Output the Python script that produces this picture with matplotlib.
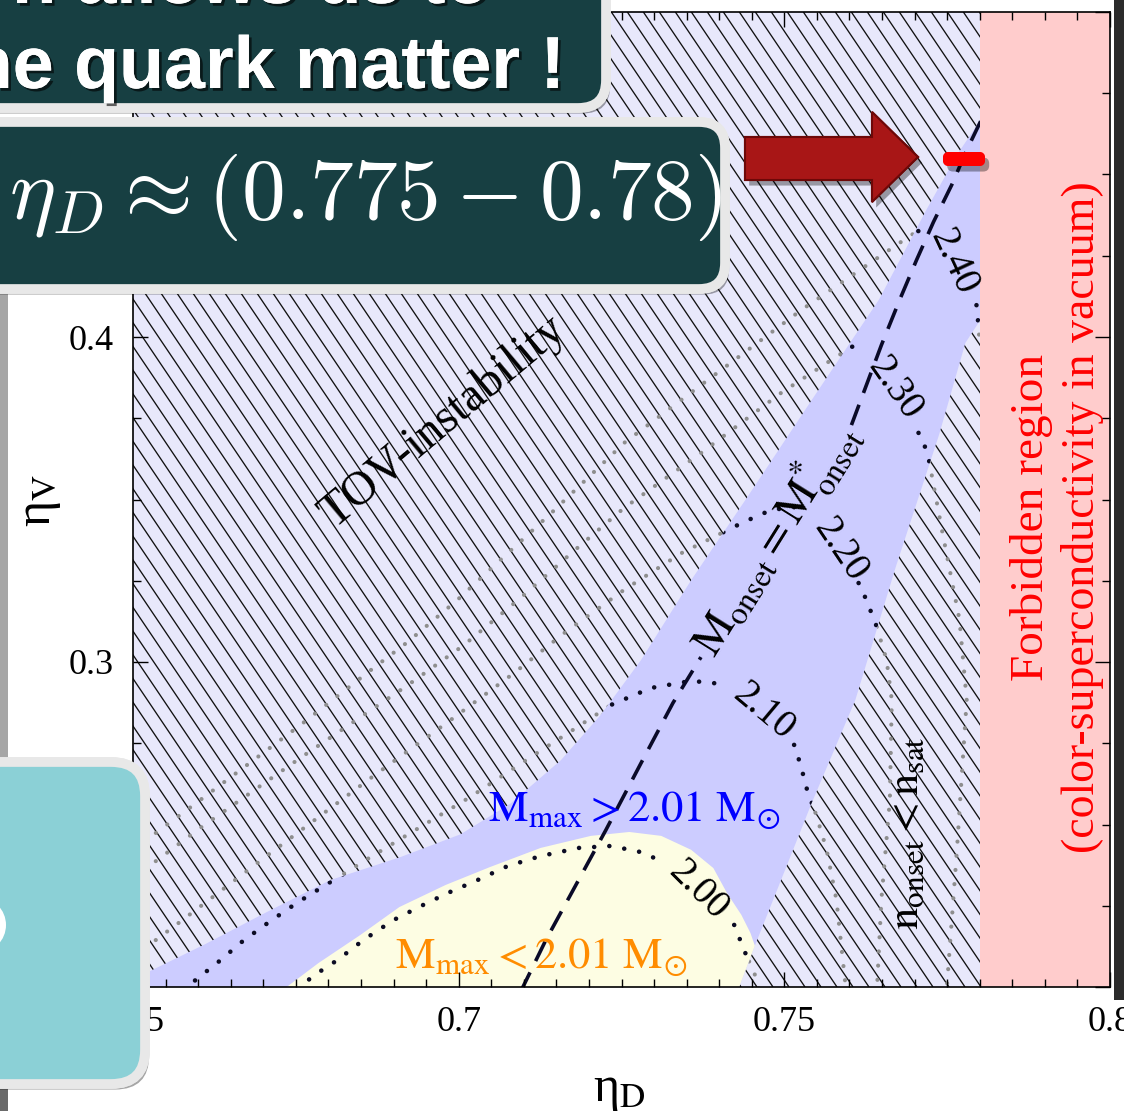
import numpy as np
import matplotlib
matplotlib.use('Agg')
import matplotlib.pyplot as plt
from matplotlib.patches import Polygon, FancyBboxPatch, Rectangle, Circle
from matplotlib.collections import LineCollection
from matplotlib.ticker import MultipleLocator, FuncFormatter
import matplotlib.patheffects as pe

plt.rcParams['font.family'] = ['Liberation Serif', 'DejaVu Serif']
plt.rcParams['mathtext.fontset'] = 'stix'

# --- region boundaries (eta_D, eta_V) ---
# allowed region (M_max > 2.01 Msun): upper-left edge, bottom to top
allowed_left_eD = [0.6511, 0.6522, 0.6611, 0.6700, 0.6803, 0.6911, 0.7003, 0.7080,
                   0.7157, 0.7218, 0.7280, 0.7357, 0.7440, 0.7542, 0.7645, 0.7718,
                   0.7765, 0.7803]
allowed_left_eV = [0.1991, 0.2045, 0.2132, 0.2225, 0.2329, 0.2400, 0.2470, 0.2565,
                   0.2698, 0.2837, 0.3006, 0.3252, 0.3498, 0.3806, 0.4114, 0.4391,
                   0.4560, 0.4674]
# allowed region: right edge, top to bottom
allowed_right_eD = [0.7811, 0.7811, 0.7778, 0.7738, 0.7671, 0.7609, 0.7542, 0.7454, 0.7429]
allowed_right_eV = [0.4674, 0.4083, 0.3982, 0.3702, 0.3292, 0.2883, 0.2566, 0.2123, 0.1991]

# M_max < 2.01 Msun region
low_mass_eD = [0.6726, 0.6785, 0.6849, 0.6909, 0.6980, 0.7048, 0.7126, 0.7203, 0.7262,
               0.7311, 0.7357, 0.7391, 0.7412, 0.7434, 0.7448, 0.7457, 0.7434]
low_mass_eV = [0.1985, 0.2074, 0.2160, 0.2246, 0.2314, 0.2369, 0.2428, 0.2465, 0.2477,
               0.2465, 0.2422, 0.2366, 0.2289, 0.2222, 0.2166, 0.2114, 0.1985]

forbidden_eD = 0.78

# M_max contours (dotted), split at the inline label
c200_a_eD = [0.6757, 0.6772, 0.6814, 0.6854, 0.6900, 0.6942, 0.6983, 0.7029, 0.7075,
             0.7126, 0.7185, 0.7234, 0.7280, 0.7314]
c200_a_eV = [0.1985, 0.2028, 0.2083, 0.2145, 0.2206, 0.2249, 0.2289, 0.2329, 0.2372,
             0.2403, 0.2428, 0.2434, 0.2415, 0.2385]
c200_b_eD = [0.7423, 0.7440, 0.7454, 0.7462]
c200_b_eV = [0.2191, 0.2105, 0.2043, 0.1985]

c210_a_eD = [0.6580, 0.6592, 0.6631, 0.6669, 0.6709, 0.6751, 0.6803, 0.6865, 0.6926,
             0.7018, 0.7111, 0.7180, 0.7234, 0.7295, 0.7357, 0.7406]
c210_a_eV = [0.1985, 0.2015, 0.2077, 0.2142, 0.2200, 0.2258, 0.2323, 0.2400, 0.2474,
             0.2585, 0.2708, 0.2797, 0.2868, 0.2920, 0.2942, 0.2932]
c210_b_eD = [0.7515, 0.7525, 0.7535, 0.7549, 0.7565, 0.7580, 0.7595]
c210_b_eV = [0.2745, 0.2683, 0.2606, 0.2529, 0.2422, 0.2268, 0.1985]

c220_a_eD = [0.6500, 0.6572, 0.6711, 0.6865, 0.6988, 0.7085, 0.7162, 0.7254, 0.7342,
             0.7438, 0.7480, 0.7518]
c220_a_eV = [0.2092, 0.2200, 0.2412, 0.2643, 0.2822, 0.2966, 0.3089, 0.3222, 0.3335,
             0.3431, 0.3468, 0.3477]
c220_b_eD = [0.7614, 0.7626, 0.7642, 0.7657, 0.7665, 0.7662, 0.7649, 0.7642]
c220_b_eV = [0.3243, 0.3191, 0.3108, 0.3006, 0.2883, 0.2575, 0.2268, 0.1985]

c230_a_eD = [0.6500, 0.6603, 0.6757, 0.6922, 0.7008, 0.7095, 0.7177, 0.7254, 0.7372,
             0.7495, 0.7572, 0.7608]
c230_a_eV = [0.2335, 0.2489, 0.2705, 0.2929, 0.3052, 0.3197, 0.3342, 0.3474, 0.3643,
             0.3828, 0.3929, 0.3975]
c230_b_eD = [0.7706, 0.7715, 0.7722, 0.7742, 0.7769, 0.7780, 0.7765, 0.7749]
c230_b_eV = [0.3705, 0.3668, 0.3622, 0.3406, 0.3129, 0.2883, 0.2422, 0.1985]

c240_a_eD = [0.6500, 0.6603, 0.6757, 0.6865, 0.6922, 0.6998, 0.7069, 0.7142, 0.7254,
             0.7372, 0.7526, 0.7634, 0.7695, 0.7723]
c240_a_eV = [0.2422, 0.2575, 0.2806, 0.2975, 0.3062, 0.3191, 0.3323, 0.3458, 0.3674,
             0.3852, 0.4083, 0.4231, 0.4314, 0.4345]
c240_b_eD = [0.7795, 0.7798, 0.7800]
c240_b_eV = [0.4098, 0.4037, 0.3975]

contour_labels = ['2.00', '2.10', '2.20', '2.30', '2.40']
label_eD = [0.7368, 0.7468, 0.7585, 0.7669, 0.7760]
label_eV = [0.2298, 0.2846, 0.3345, 0.3843, 0.4231]
label_rot = [-45, -40, -56, -55, -65]

# M_onset = M*_onset (dashed), split at its label
onset_a_eD = [0.7095, 0.7134, 0.7180, 0.7226, 0.7280, 0.7329, 0.7372]
onset_a_eV = [0.1985, 0.2145, 0.2314, 0.2483, 0.2689, 0.2874, 0.3015]
onset_b_eD = [0.7603, 0.7626, 0.7649, 0.7677, 0.7703, 0.7729, 0.7757, 0.7780, 0.7806]
onset_b_eV = [0.3729, 0.3852, 0.3975, 0.4114, 0.4237, 0.4354, 0.4468, 0.4575, 0.4683]

contours = [(c200_a_eD, c200_a_eV, c200_b_eD, c200_b_eV),
            (c210_a_eD, c210_a_eV, c210_b_eD, c210_b_eV),
            (c220_a_eD, c220_a_eV, c220_b_eD, c220_b_eV),
            (c230_a_eD, c230_a_eV, c230_b_eD, c230_b_eV),
            (c240_a_eD, c240_a_eV, c240_b_eD, c240_b_eV)]

# ------------------------------------------------------------------
fig = plt.figure(figsize=(11.24, 11.11), dpi=100)
ax = fig.add_axes([133 / 1124, 1 - 987 / 1111, 977 / 1124, 975 / 1111])
ax.set_xlim(0.65, 0.80)
ax.set_ylim(0.2, 0.5)
ax.set_facecolor('#e8e8fb')

# hatch lines (steep '\' pattern)
W, H = 977.0, 975.0
run = H / np.tan(np.radians(56))
segs = [[(x0 / W, 1.0), ((x0 + run) / W, 0.0)] for x0 in np.arange(-run, W, 16.0)]
ax.add_collection(LineCollection(segs, colors='#111111', linewidths=0.95,
                                 transform=ax.transAxes, zorder=1))

# gray contour continuation in the excluded region
for a_x, a_y, b_x, b_y in contours:
    ax.plot(a_x + b_x, a_y + b_y, color='#8e8e8e', zorder=2, lw=3.0,
            ls=(0, (0.01, 3.4)), dash_capstyle='round')

allowed = Polygon(list(zip(allowed_left_eD + allowed_right_eD,
                           allowed_left_eV + allowed_right_eV)),
                  closed=True, fc='#ccccff', ec='none', zorder=3)
ax.add_patch(allowed)
low = Polygon(list(zip(low_mass_eD, low_mass_eV)), closed=True,
              fc='#fdfde3', ec='none', zorder=4)
ax.add_patch(low)
low.set_clip_path(allowed)

for a_x, a_y, b_x, b_y in contours:
    for xs, ys in [(a_x, a_y), (b_x, b_y)]:
        ln, = ax.plot(xs, ys, color='#0c0c24', zorder=5, lw=3.3,
                      ls=(0, (0.01, 3.3)), dash_capstyle='round')
        ln.set_clip_path(allowed)

for lab, x, y, r in zip(contour_labels, label_eD, label_eV, label_rot):
    ax.text(x, y, lab, fontsize=28, rotation=r, ha='center', va='center',
            rotation_mode='anchor', zorder=8)

dash = dict(color='#0a0a28', lw=2.6, ls=(0, (6, 3.5)), zorder=6)
ax.plot(onset_a_eD, onset_a_eV, **dash)
ax.plot(onset_b_eD, onset_b_eV, **dash)

ax.axvspan(forbidden_eD, 0.80, color='#ffcccc', lw=0, zorder=7)

# annotations
ax.text(0.6975, 0.3738, 'TOV-instability', fontsize=35, rotation=40,
        ha='center', va='center', rotation_mode='anchor', zorder=8)
ax.text(0.7486, 0.3378, r'$\mathrm{M_{onset}} = \mathrm{M^{*}_{onset}}$', fontsize=33,
        rotation=58, ha='center', va='center', rotation_mode='anchor', zorder=8)
ax.text(0.7269, 0.2545, r'$\mathrm{M_{max}} > 2.01\ \mathrm{M_{\odot}}$', fontsize=32,
        color='#0000ff', ha='center', va='center', zorder=8)
ax.text(0.7126, 0.2092, r'$\mathrm{M_{max}} < 2.01\ \mathrm{M_{\odot}}$', fontsize=32,
        color='#ff8c00', ha='center', va='center', zorder=8)
ax.text(0.7688, 0.2474, r'$\mathrm{n_{onset}} < \mathrm{n_{sat}}$', fontsize=32,
        rotation=90, ha='center', va='center', zorder=8)
ax.text(0.7880, 0.3446, 'Forbidden region', fontsize=34, color='#ff0000',
        rotation=90, ha='center', va='center', zorder=8)
ax.text(0.7958, 0.3446, '(color-superconductivity in vacuum)', fontsize=33,
        color='#ff0000', rotation=90, ha='center', va='center', zorder=8)

# axes styling
fmt = FuncFormatter(lambda v, p: '%g' % round(v, 3))
ax.xaxis.set_major_locator(MultipleLocator(0.05))
ax.xaxis.set_minor_locator(MultipleLocator(0.005))
ax.yaxis.set_major_locator(MultipleLocator(0.1))
ax.yaxis.set_minor_locator(MultipleLocator(0.025))
ax.xaxis.set_major_formatter(fmt)
ax.yaxis.set_major_formatter(fmt)
ax.tick_params(which='both', direction='in', top=True, right=True, width=1.0,
               labelsize=26)
ax.tick_params(which='major', length=11, pad=14)
ax.tick_params(which='minor', length=6)
for sp in ax.spines.values():
    sp.set_linewidth(1.2)
    sp.set_zorder(20)
ax.xaxis.set_zorder(20)
ax.yaxis.set_zorder(20)

ax.set_xlabel(r'η$_\mathrm{D}$', fontsize=36)
ax.xaxis.set_label_coords(0.498, -0.106)
ax.xaxis.label.set_verticalalignment('center')
ax.set_ylabel(r'η$_\mathrm{V}$', fontsize=36)
ax.yaxis.set_label_coords(-0.095, 0.4995)
ax.yaxis.label.set_verticalalignment('center')

# ------------------------------------------------------------------
# slide overlay (pixel coordinates)
ov = fig.add_axes([0, 0, 1, 1], zorder=10)
ov.set_xlim(0, 1124)
ov.set_ylim(1111, 0)
ov.set_facecolor('none')
ov.axis('off')

shadow = [pe.withSimplePatchShadow(offset=(3, -4), shadow_rgbFace='k', alpha=0.35),
          pe.Normal()]

ov.add_patch(Rectangle((1114, 0), 10, 1000, fc='#2b2b2b', ec='none'))
ov.add_patch(Rectangle((0, 290), 8, 470, fc='#a6a6a6', ec='none'))
ov.add_patch(Rectangle((0, 1085), 8, 26, fc='#6a6a6a', ec='none'))

teal_dark = '#173f42'
box1 = FancyBboxPatch((-60, -60), 666, 168, boxstyle='round,pad=0,rounding_size=28',
                      fc=teal_dark, ec='#e8e8e8', lw=7, path_effects=shadow)
ov.add_patch(box1)
txt_shadow = [pe.withSimplePatchShadow(offset=(2, -2), shadow_rgbFace='k', alpha=0.6),
              pe.Normal()]
ov.text(490, 3, 'n allows us to', color='white', fontsize=52, fontweight='bold',
        family='Liberation Sans', ha='right', va='baseline', path_effects=txt_shadow)
ov.text(565, 88, 'he quark matter !', color='white', fontsize=53, fontweight='bold',
        family='Liberation Sans', ha='right', va='baseline', path_effects=txt_shadow)

box2 = FancyBboxPatch((-60, 122), 785, 167, boxstyle='round,pad=0,rounding_size=26',
                      fc=teal_dark, ec='#e8e8e8', lw=7, path_effects=shadow)
ov.add_patch(box2)
ov.text(366, 197, r'$\eta_D \approx (0.775 - 0.78)$', math_fontfamily='cm',
        fontsize=63, color='white', ha='center', va='center')

arrow = Polygon([(745, 137), (872, 137), (872, 112), (918, 157), (872, 202),
                 (872, 180), (745, 180)], closed=True, fc='#a81616', ec='#6e0808',
                lw=1.5, path_effects=shadow)
ov.add_patch(arrow)
ov.add_patch(FancyBboxPatch((943, 152), 42, 14, boxstyle='round,pad=0,rounding_size=6',
                            fc='#ff0000', ec='none', path_effects=shadow))

box3 = FancyBboxPatch((-60, 762), 205, 322, boxstyle='round,pad=0,rounding_size=34',
                      fc='#8bd0d6', ec='#e8e8e8', lw=7, path_effects=shadow)
ov.add_patch(box3)
ov.add_patch(Circle((-22, 925), 28, fc='white', ec='none'))

fig.savefig('out.png', dpi=100)
